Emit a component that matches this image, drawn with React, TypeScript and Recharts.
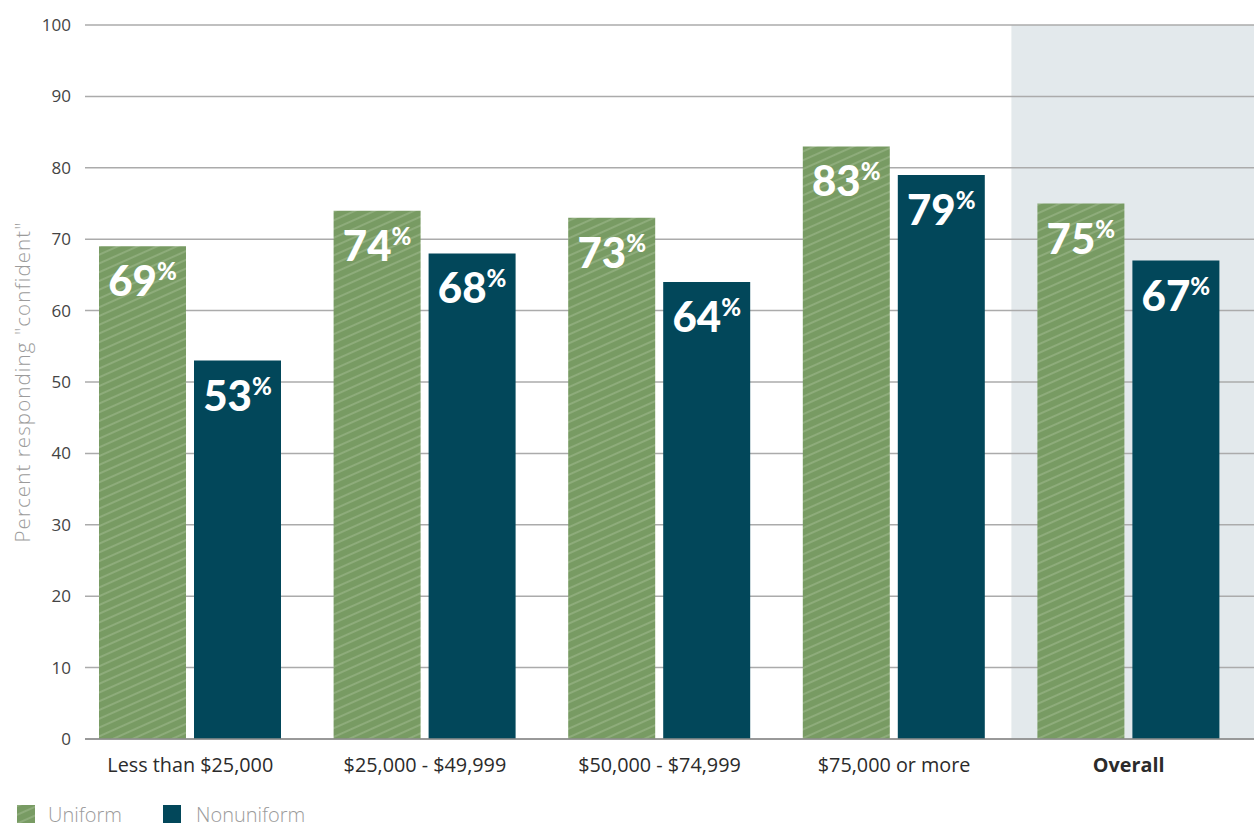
import React from 'react';
import { BarChart, Bar, XAxis, YAxis, CartesianGrid, ReferenceArea, LabelList, Legend } from 'recharts';

const categories = ['Less than $25,000', '$25,000 - $49,999', '$50,000 - $74,999', '$75,000 or more', 'Overall'];
const uniformValues = [69, 74, 73, 83, 75];
const nonuniformValues = [53, 68, 64, 79, 67];
const yTicks = [0, 10, 20, 30, 40, 50, 60, 70, 80, 90, 100];
const seriesNames = ['Uniform', 'Nonuniform'];
const highlightCategory = 'Overall';
const yAxisTitle = 'Percent responding "confident"';

const data = categories.map((c, i) => ({ category: c, uniform: uniformValues[i], nonuniform: nonuniformValues[i] }));

const GREEN = '#789b63';
const STRIPE = '#97b385';
const TEAL = '#02475a';
const BAND = '#e3e9ec';
const FONT = "Lato, 'Open Sans', sans-serif";
const TEXT_FONT = "'Open Sans', Lato, sans-serif";

const HatchPattern = ({ id }: { id: string }) => (
  <pattern id={id} patternUnits="userSpaceOnUse" width={10} height={8} patternTransform="rotate(-24)">
    <rect width={10} height={8} fill={GREEN} />
    <line x1={0} y1={1} x2={10} y2={1} stroke={STRIPE} strokeWidth={1.4} />
  </pattern>
);

const ValueLabel = (props: any) => {
  const x = Number(props.x);
  const y = Number(props.y);
  const width = Number(props.width);
  const cx = x + width / 2;
  return (
    <text x={cx} y={y + 50} textAnchor="middle" fill="#ffffff" fontFamily={FONT} fontWeight={900}>
      <tspan fontSize={42}>{props.value}</tspan>
      <tspan fontSize={24} dy={-16}>%</tspan>
    </text>
  );
};

const CategoryTick = (props: any) => {
  const { x, y, payload } = props;
  const isBold = payload.value === highlightCategory;
  return (
    <text x={x} y={y} dy={33} textAnchor="middle" fontFamily={TEXT_FONT} fontSize={19.8} fill="#2b2b2b" fontWeight={isBold ? 700 : 400}>
      {payload.value}
    </text>
  );
};

const YTitle = (props: any) => {
  const vb = props.viewBox || { x: 0, y: 25, width: 85, height: 714 };
  const cx = vb.x + 22;
  const cy = vb.y + vb.height / 2;
  return (
    <text x={cx} y={cy} transform={`rotate(-90, ${cx}, ${cy})`} textAnchor="middle" dominantBaseline="central" fontFamily={TEXT_FONT} fontWeight={300} fontSize={20.5} letterSpacing={1.1} fill="#9b9b9b">
      {yAxisTitle}
    </text>
  );
};

const LegendContent = () => (
  <div style={{ height: 22, display: 'flex', alignItems: 'center', fontFamily: TEXT_FONT, fontWeight: 300, fontSize: 20, color: '#9b9b9b', paddingLeft: 17 }}>
    <div style={{ width: 146, display: 'flex', alignItems: 'center' }}>
      <svg width={18} height={18} style={{ display: 'block' }}>
        <defs>
          <HatchPattern id="hatchLegend" />
        </defs>
        <rect width={18} height={18} fill="url(#hatchLegend)" />
      </svg>
      <span style={{ marginLeft: 13 }}>{seriesNames[0]}</span>
    </div>
    <div style={{ display: 'flex', alignItems: 'center' }}>
      <svg width={18} height={18} style={{ display: 'block' }}>
        <rect width={18} height={18} fill={TEAL} />
      </svg>
      <span style={{ marginLeft: 15 }}>{seriesNames[1]}</span>
    </div>
  </div>
);

export default function App() {
  return (
    <div style={{ position: 'absolute', left: 0, top: 0, width: 1254, height: 825, background: '#fff' }}>
      <BarChart width={1254} height={825} data={data} margin={{ top: 25, right: 0, bottom: 0, left: 0 }} barSize={87} barGap={8}>
        <defs>
          <HatchPattern id="hatchBar" />
        </defs>
        <ReferenceArea x1={highlightCategory} x2={highlightCategory} y1={0} y2={100} fill={BAND} fillOpacity={1} stroke="none" ifOverflow="extendDomain" zIndex={-200}
          shape={(p: any) => <rect x={p.x} y={p.y} width={p.width + 8} height={p.height} fill={BAND} />} />
        <CartesianGrid vertical={false} stroke="#ababab" strokeWidth={1.5} />
        <XAxis dataKey="category" height={64} tickLine={false} tickSize={0} tickMargin={0} interval={0}
          axisLine={{ stroke: '#8c8c8c', strokeWidth: 1.5 }} tick={<CategoryTick />} padding={{ left: -12, right: 8 }} />
        <YAxis domain={[0, 100]} ticks={yTicks} width={85} axisLine={false} tickLine={false} tickSize={0} tickMargin={14}
          tick={{ fontFamily: TEXT_FONT, fontSize: 17, fill: '#444' }} label={<YTitle />} />
        <Legend verticalAlign="bottom" align="left" content={<LegendContent />} />
        <Bar dataKey="uniform" name={seriesNames[0]} fill="url(#hatchBar)" isAnimationActive={false}>
          <LabelList dataKey="uniform" content={<ValueLabel />} />
        </Bar>
        <Bar dataKey="nonuniform" name={seriesNames[1]} fill={TEAL} isAnimationActive={false}>
          <LabelList dataKey="nonuniform" content={<ValueLabel />} />
        </Bar>
      </BarChart>
    </div>
  );
}
